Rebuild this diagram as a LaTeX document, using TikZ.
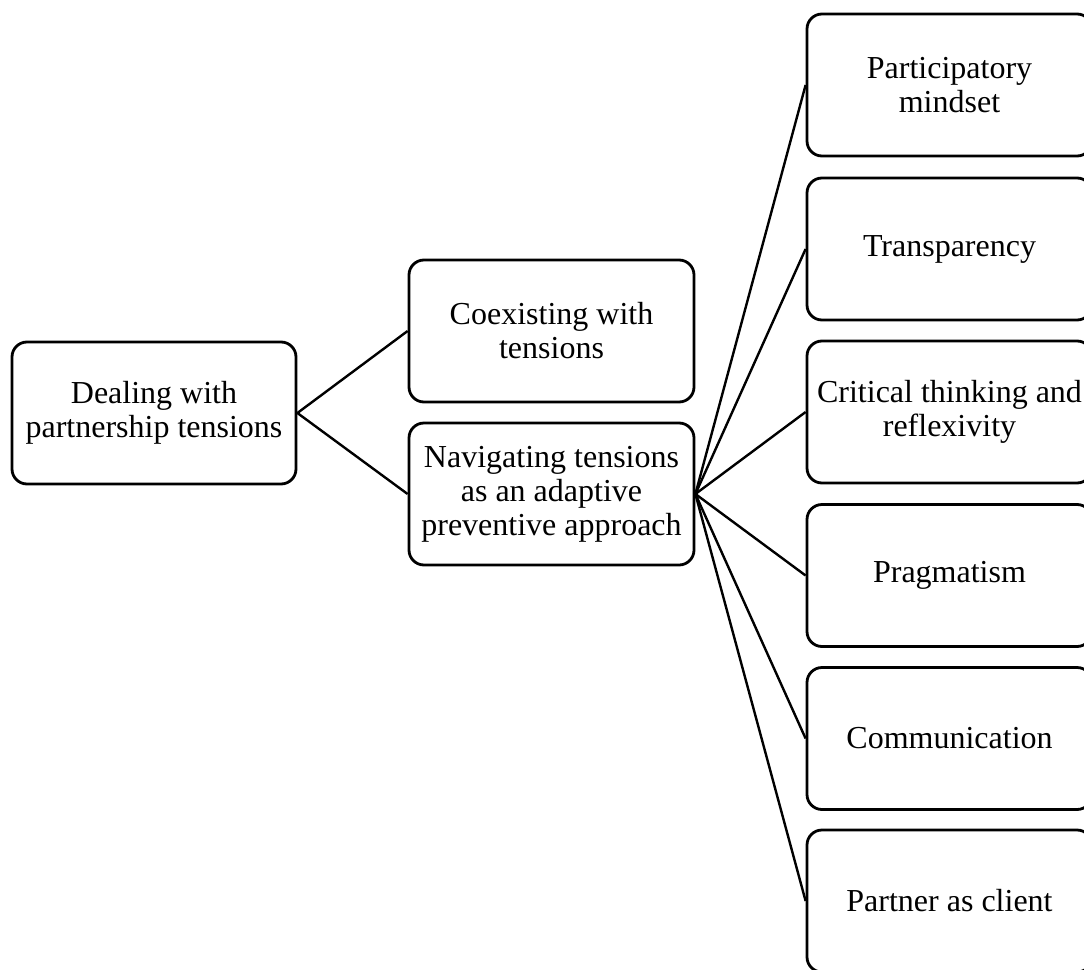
\documentclass[tikz,border=0pt]{standalone}
\usepackage{fontspec}
\setmainfont{Liberation Serif}
\begin{document}
\begin{tikzpicture}[x=1pt,y=-1pt,
  box/.style={draw=black, line width=2.8pt, rounded corners=15pt, fill=white,
    align=center, inner sep=0pt, font=\fontsize{32}{34}\selectfont},
  leftbox/.style={box, minimum width=284pt, minimum height=142pt},
  midbox/.style={box, minimum width=285pt, minimum height=142pt},
  rightbox/.style={box, minimum width=285pt, minimum height=142pt},
  link/.style={draw=black, line width=2.4pt}]
\useasboundingbox (0,0) rectangle (1084,969);
\clip (0,0) rectangle (1084,969);

% root
\node[leftbox] (root) at (154,413) {Dealing with\\partnership tensions};

% second level
\node[midbox] (coexist) at (551.5,331) {Coexisting with\\tensions};
\node[midbox] (navigate) at (551.5,494) {Navigating tensions\\as an adaptive\\preventive approach};

% third level
\node[rightbox] (r1) at (949.5,85)    {Participatory\\mindset};
\node[rightbox] (r2) at (949.5,249)   {Transparency};
\node[rightbox] (r3) at (949.5,412)   {Critical thinking and\\reflexivity};
\node[rightbox] (r4) at (949.5,575.5) {Pragmatism};
\node[rightbox] (r5) at (949.5,738.5) {Communication};
\node[rightbox] (r6) at (949.5,901)   {Partner as client};

% connectors
\draw[link] (root.east) -- (coexist.west);
\draw[link] (root.east) -- (navigate.west);
\foreach \r in {r1,r2,r3,r4,r5,r6}
  \draw[link] (navigate.east) -- (\r.west);
\end{tikzpicture}
\end{document}
